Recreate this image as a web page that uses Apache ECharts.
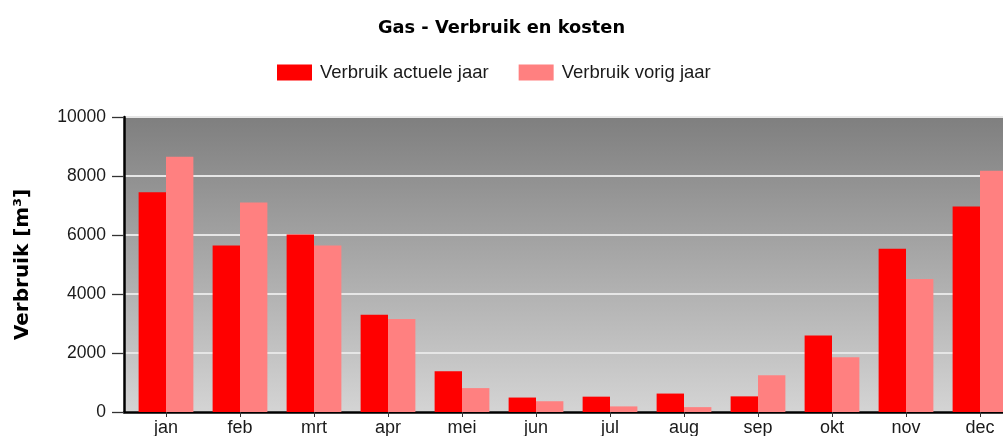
<!DOCTYPE html>
<html>
<head>
<meta charset="utf-8">
<script src="https://cdn.jsdelivr.net/npm/echarts@6/dist/echarts.min.js"></script>
<style>
  html, body { margin: 0; padding: 0; background: #fff; }
  #chart { width: 1003px; height: 436px; }
</style>
</head>
<body>
<div id="chart"></div>
<script>
// maanden en verbruik (m3)
const months = ['jan', 'feb', 'mrt', 'apr', 'mei', 'jun', 'jul', 'aug', 'sep', 'okt', 'nov', 'dec']
const actueel = [7450, 5640, 6020, 3300, 1380, 490, 520, 625, 530, 2590, 5530, 6970]
const vorig = [8650, 7100, 5640, 3150, 810, 365, 190, 165, 1245, 1855, 4510, 8180]
const yTicks = { min: 0, max: 10000, interval: 2000 }

const chart = echarts.init(document.getElementById('chart'))

const option = {
    animation: false,
    title: {
        text: 'Gas - Verbruik en kosten',
        left: 'center',
        top: 14,
        textStyle: { fontFamily: 'DejaVu Sans', fontWeight: 'bold', fontSize: 17.8, color: '#000' },
    },
    legend: {
        left: 272,
        top: 58,
        itemWidth: 35,
        itemHeight: 16,
        itemGap: 30,
        icon: 'rect',
        textStyle: { fontFamily: 'Liberation Sans', fontSize: 18.5, color: '#1a1a1a', padding: [0, 0, 0, 3] },
        data: ['Verbruik actuele jaar', 'Verbruik vorig jaar'],
    },
    grid: [
        // achtergrond + y-as (loopt rechts buiten beeld door)
        {
            left: 124, width: 893, top: 117, bottom: 24,
            outerBoundsMode: 'none', containLabel: false,
            show: true, borderWidth: 0,
            backgroundColor: new echarts.graphic.LinearGradient(0, 0, 0, 1, [
                { offset: 0, color: '#7f7f7f' },
                { offset: 1, color: '#d4d4d4' },
            ]),
        },
        // staven
        { left: 129, width: 888, top: 117, bottom: 24, outerBoundsMode: 'none', containLabel: false },
    ],
    xAxis: [
        {
            gridIndex: 0, type: 'category', data: months,
            axisLine: { show: true, lineStyle: { color: '#000', width: 2.5 } },
            axisTick: { show: false }, axisLabel: { show: false },
        },
        {
            gridIndex: 1, type: 'category', data: months,
            axisLine: { show: false },
            axisTick: { show: true, alignWithLabel: true, length: 5, lineStyle: { color: '#333' } },
            axisLabel: { margin: 7, fontFamily: 'Liberation Sans', fontSize: 18, color: '#1a1a1a' },
        },
    ],
    yAxis: [
        {
            gridIndex: 0, type: 'value', ...yTicks,
            name: 'Verbruik [m³]',
            nameLocation: 'middle',
            nameGap: 91,
            nameTextStyle: { fontFamily: 'DejaVu Sans', fontWeight: 'bold', fontSize: 20, color: '#000' },
            axisLine: { show: true, lineStyle: { color: '#000', width: 2.5 } },
            axisTick: { show: true, length: 12, lineStyle: { color: '#333', width: 1.3 } },
            axisLabel: {
                margin: 18, fontFamily: 'Liberation Sans', fontSize: 17.5, color: '#1a1a1a',
                formatter: v => String(v),
            },
            splitLine: { show: true, lineStyle: { color: '#e6e6e6', width: 2 } },
        },
        { gridIndex: 1, type: 'value', ...yTicks, show: false, splitLine: { show: false } },
    ],
    series: [
        {
            name: 'Verbruik actuele jaar', type: 'bar',
            xAxisIndex: 1, yAxisIndex: 1,
            barWidth: '37%', barGap: '0%',
            itemStyle: { color: '#ff0000' },
            data: actueel,
        },
        {
            name: 'Verbruik vorig jaar', type: 'bar',
            xAxisIndex: 1, yAxisIndex: 1,
            barWidth: '37%', barGap: '0%',
            itemStyle: { color: '#ff8080' },
            data: vorig,
        },
    ],
}
chart.setOption(option)
</script>
</body>
</html>
